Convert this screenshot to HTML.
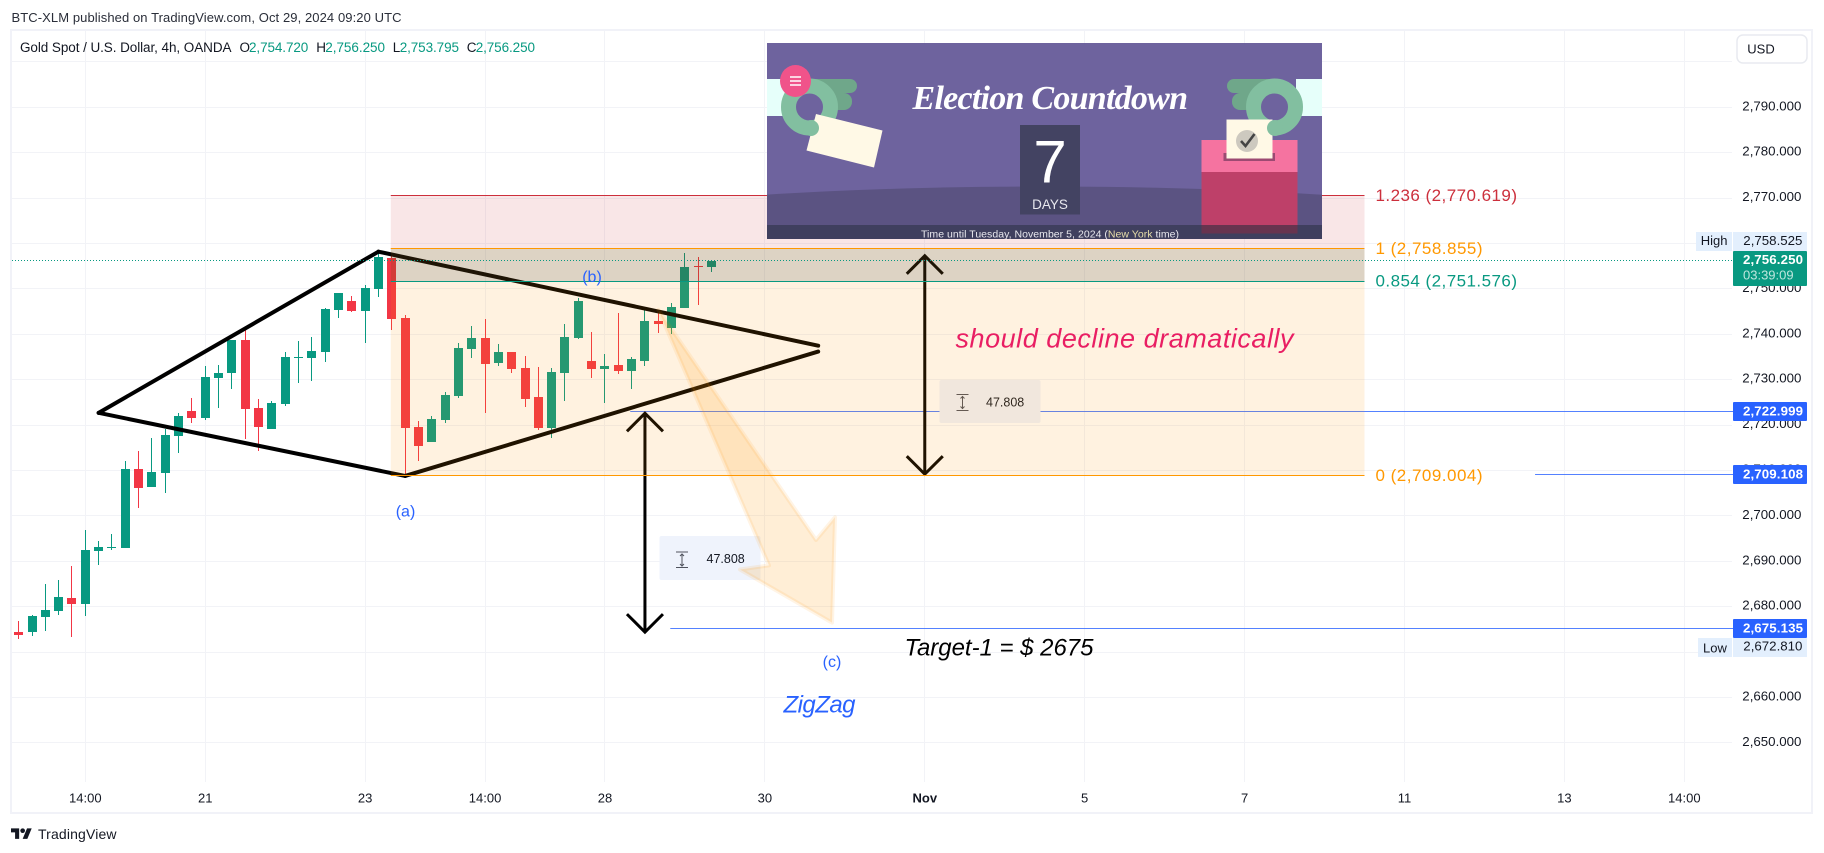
<!DOCTYPE html>
<html lang="en">
<head>
<meta charset="utf-8">
<title>Gold Spot / U.S. Dollar chart</title>
<style>
html,body{margin:0;padding:0;background:#fff;width:1824px;height:853px;overflow:hidden}
svg{display:block;font-family:"Liberation Sans",Arial,sans-serif}
text{white-space:pre}
</style>
</head>
<body>
<svg id="chart" xmlns="http://www.w3.org/2000/svg" width="1824" height="853" viewBox="0 0 1824 853">
  <rect width="1824" height="853" fill="#ffffff"/>
  <text x="11.5" y="22" font-size="13" fill="#2a2e39" textLength="390" lengthAdjust="spacing">BTC-XLM published on TradingView.com, Oct 29, 2024 09:20 UTC</text>
  <rect x="11" y="30" width="1801" height="783" fill="none" stroke="#f1f2f8" stroke-width="2"/>

  <g id="g-grid"></g>
  <g id="g-hlines"></g>
  <g id="g-candles"></g>
  <g id="g-diamond"></g>
  <g id="g-varrows"></g>

  <g>
    <rect x="939.5" y="380" width="101" height="43" rx="2" fill="#eff3fc"/>
    <path d="M956.5 394.5h12M956.5 410.5h12M962.5 396v13M960.5 398.5l2-2 2 2M960.5 406.5l2 2 2-2" fill="none" stroke="#50535e" stroke-width="1"/>
    <text x="986" y="406.5" font-size="12.5" fill="#131722">47.808</text>
  </g>
  <g>
    <rect x="659.5" y="536" width="101" height="44" rx="2" fill="#eff3fc"/>
    <path d="M676 552h12M676 567.5h12M682 553.5v13M680 556l2-2 2 2M680 564l2 2 2-2" fill="none" stroke="#50535e" stroke-width="1"/>
    <text x="706.5" y="563" font-size="12.5" fill="#131722">47.808</text>
  </g>

  <g id="g-fib"></g>
  <g id="g-orange"></g>
  <g id="g-last"></g>

  <g fill="#2962ff" font-size="16" text-anchor="middle">
    <text x="405.5" y="516.5">(a)</text>
    <text x="592" y="282">(b)</text>
    <text x="832" y="667">(c)</text>
  </g>
  <text x="955.5" y="347.5" font-size="27" font-style="italic" fill="#e91e63" textLength="338" lengthAdjust="spacing">should decline dramatically</text>
  <text x="904.5" y="655.5" font-size="24" font-style="italic" fill="#000000" textLength="189" lengthAdjust="spacing">Target-1 = $ 2675</text>
  <text x="783.5" y="712.5" font-size="24" font-style="italic" fill="#2962ff" textLength="72" lengthAdjust="spacing">ZigZag</text>

  <g font-size="17">
    <text x="1375.5" y="201" fill="#cc2f3c" textLength="141.5" lengthAdjust="spacing">1.236 (2,770.619)</text>
    <text x="1375.5" y="254" fill="#ff9800" textLength="107" lengthAdjust="spacing">1 (2,758.855)</text>
    <text x="1375.5" y="286.5" fill="#089981" textLength="141.5" lengthAdjust="spacing">0.854 (2,751.576)</text>
    <text x="1375.5" y="481" fill="#ff9800" textLength="107" lengthAdjust="spacing">0 (2,709.004)</text>
  </g>

  <g>
    <defs><clipPath id="widget-clip"><rect x="767" y="43" width="555" height="196"/></clipPath></defs>
    <g clip-path="url(#widget-clip)">
      <rect x="767" y="43" width="555" height="196" fill="#6e639e"/>
      <ellipse cx="1044" cy="272" rx="650" ry="85.5" fill="#5b5382"/>
      <rect x="767" y="79" width="24" height="37" fill="#e6fffa"/>
      <rect x="1296" y="79" width="26" height="37" fill="#e6fffa"/>
      <rect x="805" y="79" width="52" height="14" rx="7" fill="#6fa78a"/>
      <rect x="805" y="93" width="47" height="17" rx="8" fill="#6fa78a"/>
      <circle cx="809.5" cy="107" r="21" fill="#6e639e" stroke="#82bfa0" stroke-width="15"/>
      <polygon points="816,114 882.5,130.5 874,167.5 806.5,150.5" fill="#fff9e6"/>
      <circle cx="811" cy="128" r="8" fill="#82bfa0"/>
      <ellipse cx="795.5" cy="81" rx="15.5" ry="16" fill="#f0538a"/>
      <path d="M790 77h11M790 81h11M790 85h11" stroke="#ffffff" stroke-width="1.4" fill="none"/>
      <rect x="1227" y="79" width="52" height="14" rx="7" fill="#6fa78a"/>
      <rect x="1232" y="93" width="47" height="17" rx="8" fill="#6fa78a"/>
      <circle cx="1274.5" cy="107" r="21" fill="#6e639e" stroke="#82bfa0" stroke-width="15"/>
      <rect x="1201.5" y="140" width="96" height="32" fill="#f573a0"/>
      <rect x="1201.5" y="172" width="96" height="62" fill="#be4069"/>
      <rect x="1223.5" y="153" width="51.5" height="8" fill="#9c4a72"/>
      <rect x="1226.5" y="119.5" width="46" height="39" fill="#fff9e6"/>
      <circle cx="1247" cy="141" r="11" fill="#cdc9bf"/>
      <path d="M1241 141l4.5 5 9-12" stroke="#444444" stroke-width="2.6" fill="none"/>
      <circle cx="1275" cy="128" r="8" fill="#82bfa0"/>
      <rect x="767" y="225" width="555" height="14" fill="#3f3f5e"/>
      <rect x="1201.5" y="225" width="96" height="8.5" fill="#67344f"/>
      <rect x="1020" y="125" width="60" height="89.5" fill="#434362"/>
      <text x="1050" y="182.7" font-size="60" fill="#ffffff" text-anchor="middle">7</text>
      <text x="1050" y="209" font-size="13.5" fill="#e8e8ee" text-anchor="middle">DAYS</text>
      <text x="912.5" y="109" font-size="34" font-weight="bold" font-style="italic" font-family="Liberation Serif, serif" fill="#ffffff" textLength="275.5" lengthAdjust="spacing">Election Countdown</text>
      <text x="921" y="237.5" font-size="10.5" fill="#e8e8ee" textLength="258" lengthAdjust="spacing">Time until Tuesday, November 5, 2024 (<tspan fill="#e6dda8">New York</tspan> time)</text>
    </g>
  </g>

  <text x="20" y="52" font-size="13.5" fill="#131722" textLength="211.5" lengthAdjust="spacing">Gold Spot / U.S. Dollar, 4h, OANDA</text>
  <g font-size="13.5" fill="#089981">
    <text x="239.5" y="52" fill="#131722">O</text>
    <text x="249" y="52" textLength="59.3" lengthAdjust="spacing">2,754.720</text>
    <text x="316.3" y="52" fill="#131722">H</text>
    <text x="325.3" y="52" textLength="59.7" lengthAdjust="spacing">2,756.250</text>
    <text x="392.7" y="52" fill="#131722">L</text>
    <text x="399.7" y="52" textLength="59.3" lengthAdjust="spacing">2,753.795</text>
    <text x="466.7" y="52" fill="#131722">C</text>
    <text x="475.7" y="52" textLength="59.3" lengthAdjust="spacing">2,756.250</text>
  </g>

  <g id="g-yaxis"></g>
  <g id="g-xaxis"></g>

  <g>
    <rect x="1737" y="35" width="70" height="28" rx="6" fill="#ffffff" stroke="#e8eaf0" stroke-width="1.5"/>
    <text x="1747.3" y="53.5" font-size="13" fill="#131722">USD</text>
  </g>

  <g>
    <rect x="1696" y="232" width="36" height="19" fill="#e3effd"/>
    <rect x="1733" y="232" width="74" height="19" fill="#e3effd"/>
    <text x="1700.7" y="245" font-size="13" fill="#131722">High</text>
    <text x="1743.3" y="245" font-size="13.3" fill="#131722">2,758.525</text>
  </g>
  <g>
    <rect x="1733" y="251" width="74" height="35" rx="1" fill="#089981"/>
    <text x="1743" y="264" font-size="13.3" font-weight="bold" fill="#ffffff" textLength="60" lengthAdjust="spacing">2,756.250</text>
    <text x="1743" y="279.5" font-size="13" fill="#bee6dd">03:39:09</text>
  </g>
  <g>
    <rect x="1733" y="402" width="74" height="19" rx="1" fill="#2962ff"/>
    <text x="1743" y="415.5" font-size="13.3" font-weight="bold" fill="#ffffff" textLength="60" lengthAdjust="spacing">2,722.999</text>
    <rect x="1733" y="465" width="74" height="19" rx="1" fill="#2962ff"/>
    <text x="1743" y="478.5" font-size="13.3" font-weight="bold" fill="#ffffff" textLength="60" lengthAdjust="spacing">2,709.108</text>
    <rect x="1733" y="619" width="74" height="19" rx="1" fill="#2962ff"/>
    <text x="1743" y="632.5" font-size="13.3" font-weight="bold" fill="#ffffff" textLength="60" lengthAdjust="spacing">2,675.135</text>
  </g>
  <g>
    <rect x="1698" y="638" width="34" height="19" fill="#e3effd"/>
    <rect x="1733" y="638" width="74" height="19" fill="#e3effd"/>
    <text x="1703" y="652.5" font-size="13" fill="#131722">Low</text>
    <text x="1743.3" y="650.5" font-size="13.3" fill="#131722">2,672.810</text>
  </g>

  <g>
    <g transform="translate(11 826) scale(0.583)" fill="#131722">
      <path d="M14 22H7V11H0V4h14v18zM28 22h-8l7.5-18h8L28 22z"/>
      <circle cx="20" cy="8" r="4"/>
    </g>
    <text x="38" y="839" font-size="14" fill="#131722" textLength="78.5" lengthAdjust="spacing">TradingView</text>
  </g>
</svg>

<script>
/* ---------- candle data (4h bars) ---------- */
const opens  = [2674.33,2674.33,2677.64,2678.96,2681.83,2680.50,2692.19,2692.86,2692.86,2710.28,2706.31,2709.40,2717.56,2723.08,2721.53,2730.36,2731.46,2738.74,2723.74,2719.11,2724.62,2734.77,2734.77,2736.09,2745.36,2747.34,2745.14,2749.99,2756.75,2743.59,2719.54,2716.24,2721.09,2726.38,2736.75,2739.18,2733.66,2736.09,2732.56,2726.16,2719.32,2731.46,2739.18,2734.10,2732.34,2733.22,2731.90,2734.10,2742.93,2741.38,2745.79,2755.06,2754.72];
const highs  = [2676.75,2678.08,2684.91,2685.80,2688.89,2696.83,2694.40,2695.94,2712.05,2714.25,2717.12,2719.25,2722.64,2725.94,2733.00,2733.22,2738.74,2740.94,2725.72,2725.28,2736.09,2738.52,2739.40,2745.80,2749.03,2748.45,2750.87,2758.50,2757.50,2744.25,2720.87,2721.97,2727.26,2738.07,2741.82,2743.37,2737.85,2736.09,2735.21,2732.78,2732.56,2742.26,2748.00,2740.50,2735.65,2744.69,2734.99,2745.35,2745.35,2746.90,2757.93,2757.04,2756.25];
const lows   = [2672.81,2673.44,2674.55,2678.08,2673.22,2677.86,2689.11,2692.41,2692.86,2701.68,2706.31,2704.99,2713.81,2720.43,2721.09,2723.74,2727.93,2716.90,2714.25,2719.11,2724.18,2729.25,2729.69,2733.89,2743.59,2744.92,2738.08,2748.29,2740.94,2708.96,2712.04,2716.24,2720.43,2725.94,2734.76,2722.63,2733.00,2731.46,2723.96,2718.88,2717.12,2725.28,2738.96,2730.35,2724.84,2731.24,2727.93,2733.00,2740.28,2740.06,2745.79,2746.46,2753.795];
const closes = [2673.66,2677.86,2679.18,2682.05,2680.50,2692.41,2693.08,2693.08,2710.28,2706.09,2709.62,2717.78,2721.97,2721.53,2730.58,2731.46,2738.74,2723.52,2719.55,2724.84,2734.99,2734.99,2736.31,2745.58,2749.03,2745.14,2750.21,2757.12,2743.37,2719.32,2715.35,2721.31,2726.60,2736.97,2739.18,2733.44,2736.09,2732.34,2725.72,2719.32,2731.68,2739.40,2747.34,2732.34,2733.00,2731.90,2734.54,2742.93,2742.26,2746.01,2754.84,2754.84,2756.25];

/* ---------- axis data ---------- */
const priceTicks = [2800,2790,2780,2770,2760,2750,2740,2730,2720,2710,2700,2690,2680,2670,2660,2650];
const priceTickLabels = ["","2,790.000","2,780.000","2,770.000","2,760.000","2,750.000","2,740.000","2,730.000","2,720.000","2,710.000","2,700.000","2,690.000","2,680.000","2,670.000","2,660.000","2,650.000"];
const timeTickBars = [5,14,26,35,44,56,68,80,92,104,116,125];
const timeTickLabels = ["14:00","21","23","14:00","28","30","Nov","5","7","11","13","14:00"];
const timeTickBold = ["Nov"];

/* ---------- drawing data ---------- */
const lastPrice = 2756.25;
const rayPrices = [2722.999,2709.108,2675.135];
const rayStartBars = [45.9,113.8,48.9];
const fibPrices = [2770.619,2758.855,2751.576,2709.004];
const fibColors = ["#cc2f3c","#ff9800","#089981","#ff9800"];
const fibFills = ["rgba(204,47,60,0.12)","rgba(120,80,20,0.25)","rgba(255,152,0,0.12)"];
const fibStartBar = 28;
const fibEndBar = 101;
const diamondFromBars = [6,6,27,29];
const diamondFromPrices = [2722.7,2722.7,2758.2,2708.8];
const diamondToBars = [27,29,60,60];
const diamondToPrices = [2758.2,2708.8,2737.5,2736.2];
const arrowBars = [47,68];
const arrowTopPrices = [2722.6,2757.3];
const arrowBottomPrices = [2674.4,2709.2];
const projectionBars = [48,59.84,61.26,61.04,54.13,56.31];
const projectionPrices = [2745.4,2694.7,2699.7,2676.5,2688.2,2689.1];

/* ---------- axis functions ---------- */
function xBar(i){ return 18.675 + 13.325 * i; }
function yPrice(p){ return 61.9 + (2800 - p) * 4.54; }

const NS = 'http://www.w3.org/2000/svg';
function mk(tag, parentId, attrs){
  const n = document.createElementNS(NS, tag);
  for (const k in attrs) n.setAttribute(k, attrs[k]);
  document.getElementById(parentId).appendChild(n);
  return n;
}
const PLOT_LEFT = 12, PLOT_RIGHT = 1732, PLOT_TOP = 31, PLOT_BOTTOM = 782;
const GRID = '#f2f3f7';

/* grid */
priceTicks.forEach(function(p){
  const y = Math.floor(yPrice(p)) + 0.5;
  const el = mk('line', 'g-grid', {x1:PLOT_LEFT, x2:PLOT_RIGHT, y1:y, y2:y, stroke:GRID});
  
  
});
timeTickBars.forEach(function(b){
  const x = Math.floor(xBar(b)) + 0.5;
  const el = mk('line', 'g-grid', {x1:x, x2:x, y1:PLOT_TOP, y2:PLOT_BOTTOM, stroke:GRID});
  
  
});

/* horizontal rays */
rayPrices.forEach(function(p, i){
  const y = Math.floor(yPrice(p)) + 0.5;
  const el = mk('line', 'g-hlines', {x1:xBar(rayStartBars[i]), x2:1733, y1:y, y2:y, stroke:'#2962ff', 'stroke-opacity':0.8});
  
  
});

/* candles */
opens.forEach(function(o, i){
  const c = closes[i];
  const up = c >= o;
  const color = up ? '#089981' : '#f23645';
  const bx = Math.round(xBar(i) - 4.5);
  const yH = Math.round(yPrice(highs[i]));
  const yL = Math.round(yPrice(lows[i]));
  const yT = Math.round(yPrice(Math.max(o, c)));
  const yB = Math.round(yPrice(Math.min(o, c)));
  const wick = mk('rect', 'g-candles', {x:bx + 4, y:yH, width:1, height:Math.max(1, yL - yH), fill:color});
  
  
  const body = mk('rect', 'g-candles', {x:bx, y:yT, width:9, height:Math.max(1, yB - yT), fill:color});
  
  
});

/* diamond */
diamondFromBars.forEach(function(b, i){
  const el = mk('line', 'g-diamond', {
    x1:xBar(b), y1:yPrice(diamondFromPrices[i]),
    x2:xBar(diamondToBars[i]), y2:yPrice(diamondToPrices[i]),
    stroke:'#000000', 'stroke-width':4, 'stroke-linecap':'round'
  });
  
  
});

/* double arrows */
arrowBars.forEach(function(b, i){
  const x = xBar(b);
  const t = yPrice(arrowTopPrices[i]);
  const u = yPrice(arrowBottomPrices[i]);
  const d = 'M' + x + ' ' + t + 'V' + u +
    'M' + (x - 18) + ' ' + (t + 18) + 'L' + x + ' ' + t + 'L' + (x + 18) + ' ' + (t + 18) +
    'M' + (x - 18) + ' ' + (u - 18) + 'L' + x + ' ' + u + 'L' + (x + 18) + ' ' + (u - 18);
  const el = mk('path', 'g-varrows', {d:d, fill:'none', stroke:'#000000', 'stroke-width':3});
  
  
});

/* fibonacci fills and lines */
fibFills.forEach(function(f, i){
  const y0 = Math.floor(yPrice(fibPrices[i]));
  const y1 = Math.floor(yPrice(fibPrices[i + 1]));
  const el = mk('rect', 'g-fib', {x:xBar(fibStartBar) - 1, y:y0, width:xBar(fibEndBar) - xBar(fibStartBar) + 1, height:y1 - y0, fill:f});
  
  
});
fibPrices.forEach(function(p, i){
  const y = Math.floor(yPrice(p)) + 0.5;
  const el = mk('line', 'g-fib', {x1:xBar(fibStartBar) - 1, x2:xBar(fibEndBar), y1:y, y2:y, stroke:fibColors[i]});
  
  
});

/* orange projection arrow */
(function(){
  const pts = projectionBars.map(function(b, i){
    return xBar(b).toFixed(1) + ',' + yPrice(projectionPrices[i]).toFixed(1);
  }).join(' ');
  const el = mk('polygon', 'g-orange', {points:pts, fill:'rgba(255,152,0,0.16)', stroke:'rgba(255,152,0,0.1)', 'stroke-width':4, 'stroke-linejoin':'round'});
  
  
})();

/* last price dotted line */
(function(){
  const y = Math.floor(yPrice(lastPrice)) + 0.5;
  const el = mk('line', 'g-last', {x1:PLOT_LEFT, x2:PLOT_RIGHT, y1:y, y2:y, stroke:'#089981', 'stroke-dasharray':'1 2'});
  
  
})();

/* price axis labels */
priceTickLabels.forEach(function(label, i){
  if (!label) return;
  const el = mk('text', 'g-yaxis', {x:1742.3, y:yPrice(priceTicks[i]) + 3, 'font-size':13.3, fill:'#131722'});
  
  
  el.textContent = label;
});

/* time axis labels */
timeTickLabels.forEach(function(label, i){
  const bold = timeTickBold.indexOf(label) >= 0;
  const el = mk('text', 'g-xaxis', {x:xBar(timeTickBars[i]), y:802.5, 'font-size':13, fill:'#131722', 'text-anchor':'middle', 'font-weight':bold ? 'bold' : 'normal'});
  
  
  el.textContent = label;
});
</script>
</body>
</html>
